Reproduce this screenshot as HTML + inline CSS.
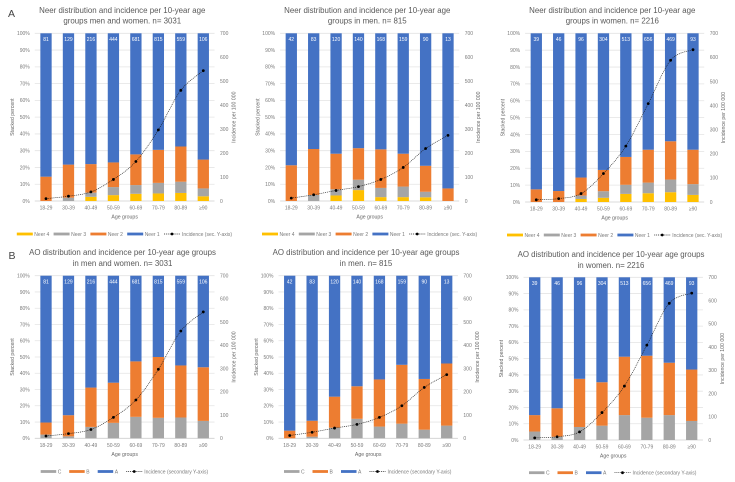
<!DOCTYPE html>
<html>
<head>
<meta charset="utf-8">
<title>Neer and AO distribution charts</title>
<style>
html,body{margin:0;padding:0;background:#fff;width:735px;height:482px;overflow:hidden}
svg{display:block}
text{font-family:"Liberation Sans",sans-serif}
</style>
</head>
<body>
<svg id="figure" width="735" height="482" viewBox="0 0 735 482" xmlns="http://www.w3.org/2000/svg">
<rect width="735" height="482" fill="#fff"/>
<text x="8" y="17" font-size="10.5" fill="#444">A</text>
<text x="8.5" y="259" font-size="10.5" fill="#444">B</text>
</svg>
<script>
const ageGroups = ['18-29','30-39','40-49','50-59','60-69','70-79','80-89','≥90'];
const percentTicks = [0,10,20,30,40,50,60,70,80,90,100];
const incidenceTicks = [0,100,200,300,400,500,600,700];

const countsAll = [81,129,216,444,681,815,559,106];
const countsMen = [42,83,120,140,168,159,90,13];
const countsWomen = [39,46,96,304,513,656,469,93];

const incidenceAll = [10,20,38,90,165,297,462,544];
const incidenceMen = [12,26,44,60,90,140,219,274];
const incidenceWomen = [9,14,35,118,232,408,588,632];

const neer4All = [0,0,2.5,3.5,4.3,4.5,4.8,2.8];
const neer3All = [0,2,2.5,4.8,5.2,6.3,6.7,4.7];
const neer2All = [14.5,19.7,17,14.7,18.3,19.7,21,17.2];
const neer1All = [85.5,78.3,78,77,72.2,69.5,67.5,75.3];

const neer4Men = [0,0,3.3,6.5,2.3,2.3,2.2,0];
const neer3Men = [0,3.6,3.7,6.2,5.5,6.3,3.3,0];
const neer2Men = [21.3,27.4,21.2,18.8,23,19.6,15.5,7.5];
const neer1Men = [78.7,69,71.8,68.5,69.2,71.8,79,92.5];

const neer4Women = [0,0,1.8,2.5,4.8,5.2,5.8,4.2];
const neer3Women = [0,0,2,3.9,5.4,6.3,7.5,6.4];
const neer2Women = [7.5,6.5,10.7,12.6,16.5,19.5,22.7,20.4];
const neer1Women = [92.5,93.5,85.5,81,73.3,69,64,69];

const aoCAll = [2.3,1.2,7,9.5,13.2,12.6,12.8,10.7];
const aoBAll = [7.4,13,24.2,24.7,34.1,37.4,32,33];
const aoAAll = [90.3,85.8,68.8,65.8,52.7,50,55.2,56.3];

const aoCMen = [0,1,6.5,12,7.2,9,5.3,7.8];
const aoBMen = [4.7,9.8,19.1,20,29,36.2,31.2,38.2];
const aoAMen = [95.3,89.2,74.4,68,63.8,54.8,63.5,54];

const aoCWomen = [5.2,2,8,8.8,15.3,13.7,15.3,11.7];
const aoBWomen = [10.1,17.5,29.6,26.7,35.9,38.1,32.2,31.6];
const aoAWomen = [84.7,80.5,62.4,64.5,48.8,48.2,52.5,56.7];

const COLORS = {yellow:'#ffc000', gray:'#a5a5a5', orange:'#ed7d31', blue:'#4472c4'};
const NEER_NAMES = ['Neer 4','Neer 3','Neer 2','Neer 1'];
const AO_NAMES = ['C','B','A'];
const svg = document.getElementById('figure');

function make(parent, tag, attrs, txt) {
  const el = document.createElementNS('http://www.w3.org/2000/svg', tag);
  for (const k in attrs) el.setAttribute(k, attrs[k]);
  if (txt !== undefined) el.textContent = txt;
  parent.appendChild(el);
  return el;
}

function smoothPath(p) {
  let d = 'M' + p[0][0] + ' ' + p[0][1];
  for (let i = 0; i < p.length - 1; i++) {
    const a = p[Math.max(i - 1, 0)], b = p[i], c = p[i + 1], e = p[Math.min(i + 2, p.length - 1)];
    d += ' C' + (b[0] + (c[0] - a[0]) / 6) + ' ' + (b[1] + (c[1] - a[1]) / 6) + ' ' +
         (c[0] - (e[0] - b[0]) / 6) + ' ' + (c[1] - (e[1] - b[1]) / 6) + ' ' + c[0] + ' ' + c[1];
  }
  return d;
}

function drawChart(o) {
  const g = make(svg, 'g', {});
  
  

  const step = (o.lastX - o.firstX) / (ageGroups.length - 1);
  const plotL = o.firstX - step / 2, plotR = o.lastX + step / 2;
  const xPos = i => o.firstX + i * step;
  const yPct = v => o.bottom - (v / 100) * (o.bottom - o.top);
  const yInc = v => o.bottom - (v / 700) * (o.bottom - o.top);
  const barW = 11.3;
  const axisFill = '#7a7a7a';

  o.title.forEach((line, i) => {
    const t = make(g, 'text', {x: o.titleX, y: o.titleY + i * 10.6, 'font-size': o.titleSize, fill: '#595959', 'text-anchor': 'middle'}, line);
    
    
  });

  percentTicks.forEach(v => {
    const gl = make(g, 'line', {x1: plotL, x2: plotR, y1: yPct(v), y2: yPct(v), stroke: v === 0 ? '#cfcfcf' : '#e4e4e4', 'stroke-width': 0.8});
    
    
    const t = make(g, 'text', {x: plotL - 5, y: yPct(v) + 1.8, 'font-size': 5, fill: axisFill, 'text-anchor': 'end'}, v + '%');
    
    
  });

  incidenceTicks.forEach(v => {
    const t = make(g, 'text', {x: plotR + 5.5, y: yInc(v) + 1.8, 'font-size': 5, fill: axisFill}, v);
    
    
  });

  ageGroups.forEach((label, i) => {
    let cum = 0;
    o.series.forEach(s => {
      const v = s.values[i];
      if (v > 0) {
        const r = make(g, 'rect', {x: xPos(i) - barW / 2, y: yPct(cum + v), width: barW, height: yPct(cum) - yPct(cum + v), fill: s.color});
        
        
      }
      cum += v;
    });
    const c = make(g, 'text', {x: xPos(i), y: o.top + 7.7, 'font-size': 5, fill: '#fff', 'text-anchor': 'middle'}, o.counts[i]);
    
    
    const t = make(g, 'text', {x: xPos(i), y: o.bottom + 8.5, 'font-size': 5, fill: axisFill, 'text-anchor': 'middle'}, label);
    
    
  });

  const pts = o.incidence.map((v, i) => [xPos(i), yInc(v)]);
  const line = make(g, 'path', {d: smoothPath(pts), fill: 'none', stroke: '#1a1a1a', 'stroke-width': 0.65, 'stroke-dasharray': '1 0.9'});
  
  
  pts.forEach(p => {
    const m = make(g, 'circle', {cx: p[0], cy: p[1], r: 1.4, fill: '#000'});
    
    
  });

  const xt = make(g, 'text', {x: (plotL + plotR) / 2, y: o.bottom + 17.5, 'font-size': 5.2, fill: '#666', 'text-anchor': 'middle'}, 'Age groups');
  
  

  const midY = (o.top + o.bottom) / 2;
  const lt = make(g, 'text', {x: 0, y: 0, 'font-size': 5.2, fill: '#666', 'text-anchor': 'middle', transform: 'translate(' + (plotL - 20.7) + ' ' + midY + ') rotate(-90)'}, 'Stacked  percent');
  
  
  const rt = make(g, 'text', {x: 0, y: 0, 'font-size': 5.2, fill: '#666', 'text-anchor': 'middle', transform: 'translate(' + (plotR + 21) + ' ' + midY + ') rotate(-90)'}, 'Incidence per 100 000');
  
  

  o.series.forEach((s, i) => {
    const x = o.legendX + i * o.legendStep;
    const sw = make(g, 'rect', {x: x, y: o.legendY - 1.4, width: o.swatch, height: 2.8, fill: s.color});
    
    
    const t = make(g, 'text', {x: x + o.swatch + 1.5, y: o.legendY + 1.8, 'font-size': 5, fill: axisFill}, s.name);
    
    
  });
  const lx = o.legendX + o.series.length * o.legendStep;
  const ll = make(g, 'line', {x1: lx, x2: lx + 16, y1: o.legendY, y2: o.legendY, stroke: '#1a1a1a', 'stroke-width': 0.65, 'stroke-dasharray': '1 0.9'});
  
  
  const lm = make(g, 'circle', {cx: lx + 8, cy: o.legendY, r: 1.4, fill: '#000'});
  
  
  const lxt = make(g, 'text', {x: lx + 18, y: o.legendY + 1.8, 'font-size': 5, fill: axisFill}, o.lineLabel);
  
  
}

function neerSeries(a, b, c, d) {
  return [
    {name: NEER_NAMES[0], color: COLORS.yellow, values: a},
    {name: NEER_NAMES[1], color: COLORS.gray, values: b},
    {name: NEER_NAMES[2], color: COLORS.orange, values: c},
    {name: NEER_NAMES[3], color: COLORS.blue, values: d}
  ];
}
function aoSeries(a, b, c) {
  return [
    {name: AO_NAMES[0], color: COLORS.gray, values: a},
    {name: AO_NAMES[1], color: COLORS.orange, values: b},
    {name: AO_NAMES[2], color: COLORS.blue, values: c}
  ];
}

const neerCommon = {titleSize: 7.9, swatch: 16, legendStep: 36.8, lineLabel: 'Incidence (sec. Y-axis)'};
const aoCommon = {titleSize: 7.9, swatch: 15.5, legendStep: 28.5, lineLabel: 'Incidence (secondary Y-axis)'};

drawChart(Object.assign({}, neerCommon, {id: 'neer-all', title: ['Neer distribution and incidence per 10-year age', 'groups men and women. n= 3031'],
  titleX: 122.3, titleY: 12.8, firstX: 46, lastX: 203.3, top: 33.3, bottom: 201, legendX: 16.8, legendY: 234,
  series: neerSeries(neer4All, neer3All, neer2All, neer1All), counts: countsAll, incidence: incidenceAll}));
drawChart(Object.assign({}, neerCommon, {id: 'neer-men', title: ['Neer distribution and incidence per 10-year age', 'groups in men. n= 815'],
  titleX: 367.3, titleY: 12.8, firstX: 291.3, lastX: 448, top: 33.3, bottom: 201, legendX: 262, legendY: 234,
  series: neerSeries(neer4Men, neer3Men, neer2Men, neer1Men), counts: countsMen, incidence: incidenceMen}));
drawChart(Object.assign({}, neerCommon, {id: 'neer-women', title: ['Neer distribution and incidence per 10-year age', 'groups in women. n= 2216'],
  titleX: 612.3, titleY: 12.8, firstX: 536.3, lastX: 693, top: 33.3, bottom: 202, legendX: 507, legendY: 235,
  series: neerSeries(neer4Women, neer3Women, neer2Women, neer1Women), counts: countsWomen, incidence: incidenceWomen}));

drawChart(Object.assign({}, aoCommon, {id: 'ao-all', title: ['AO distribution and incidence per 10-year age groups', 'in men and women. n= 3031'],
  titleX: 122.5, titleY: 255.2, firstX: 46, lastX: 203.3, top: 275.7, bottom: 438.3, legendX: 40.7, legendY: 471.5,
  series: aoSeries(aoCAll, aoBAll, aoAAll), counts: countsAll, incidence: incidenceAll}));
drawChart(Object.assign({}, aoCommon, {id: 'ao-men', title: ['AO distribution and incidence per 10-year age groups', 'in men. n= 815'],
  titleX: 366, titleY: 255.2, firstX: 289.7, lastX: 446.7, top: 275.7, bottom: 438.3, legendX: 284, legendY: 471.5,
  series: aoSeries(aoCMen, aoBMen, aoAMen), counts: countsMen, incidence: incidenceMen}));
drawChart(Object.assign({}, aoCommon, {id: 'ao-women', title: ['AO distribution and incidence per 10-year age groups', 'in women. n= 2216'],
  titleX: 611, titleY: 257.2, firstX: 534.7, lastX: 691.7, top: 277.3, bottom: 440, legendX: 529, legendY: 472.7,
  series: aoSeries(aoCWomen, aoBWomen, aoAWomen), counts: countsWomen, incidence: incidenceWomen}));
</script>
</body>
</html>
